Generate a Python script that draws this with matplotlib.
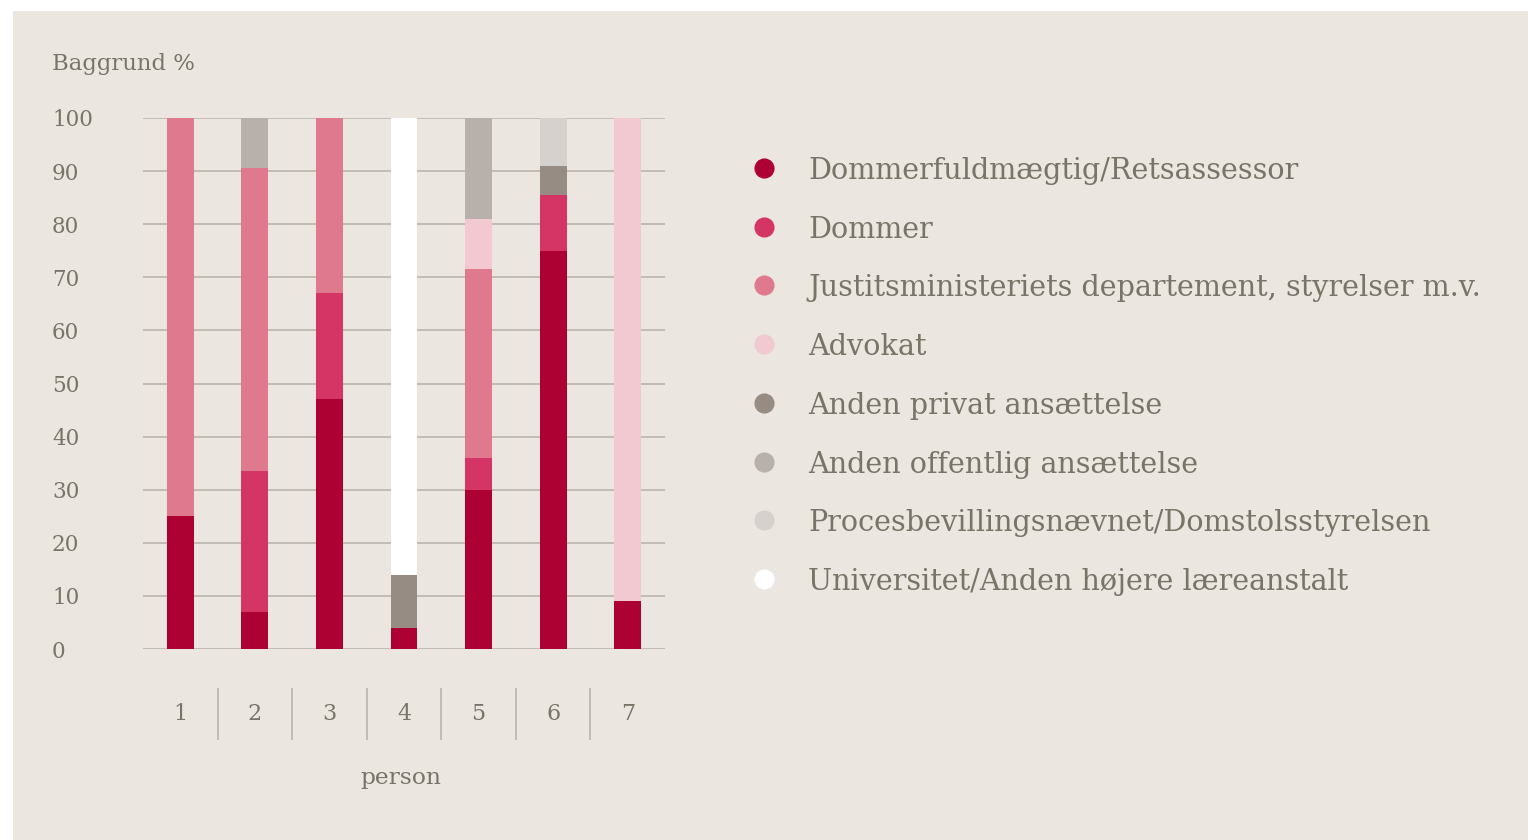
import numpy as np
import matplotlib.pyplot as plt
from matplotlib.patches import Rectangle
from matplotlib.lines import Line2D
import matplotlib.transforms as mtransforms

# data (percent per person)
persons = ["1", "2", "3", "4", "5", "6", "7"]
categories = [
    "Dommerfuldmægtig/Retsassessor",
    "Dommer",
    "Justitsministeriets departement, styrelser m.v.",
    "Advokat",
    "Anden privat ansættelse",
    "Anden offentlig ansættelse",
    "Procesbevillingsnævnet/Domstolsstyrelsen",
    "Universitet/Anden højere læreanstalt",
]
dommerfuld = [25, 7, 47, 4, 30, 75, 9]
dommer = [0, 26.5, 20, 0, 6, 10.5, 0]
justits = [75, 57, 33, 0, 35.5, 0, 0]
advokat = [0, 0, 0, 0, 9.5, 0, 91]
anden_privat = [0, 0, 0, 10, 0, 5.5, 0]
anden_offentlig = [0, 9.5, 0, 0, 19, 0, 0]
proces = [0, 0, 0, 0, 0, 9, 0]
universitet = [0, 0, 0, 86, 0, 0, 0]

colors = ["#ad0033", "#d43564", "#df7a8e", "#f2c9d0",
          "#978c83", "#b8b1ab", "#d6d1cd", "#ffffff"]
series = [dommerfuld, dommer, justits, advokat,
          anden_privat, anden_offentlig, proces, universitet]

BG = "#ebe6e0"
TXT = "#797468"
GRID = "#bab4ad"
FONT = "DejaVu Serif"

W, H = 1528, 840
fig = plt.figure(figsize=(W / 100, H / 100), dpi=100, facecolor="white")
fig.patches.append(Rectangle((13 / W, 0), 1 - 13 / W, (H - 11) / H,
                             transform=fig.transFigure, facecolor=BG,
                             edgecolor="none", zorder=-10))

ax = fig.add_axes([143 / W, (H - 649) / H, (665 - 143) / W, (649 - 118) / H])
ax.set_facecolor("none")

x = np.arange(len(persons))
bottom = np.zeros(len(persons))
for vals, col in zip(series, colors):
    vals = np.array(vals, dtype=float)
    ax.bar(x, vals, width=0.36, bottom=bottom, color=col, zorder=3, linewidth=0)
    bottom += vals

ax.set_xlim(-0.5, len(persons) - 0.5)
ax.set_ylim(0, 100)
ax.set_yticks(np.arange(0, 101, 10))
ax.yaxis.grid(True, color=GRID, linewidth=1.2, zorder=1)
ax.set_axisbelow(True)
for s in ax.spines.values():
    s.set_visible(False)

ax.tick_params(axis="y", length=0, pad=65.5, labelsize=15.5, labelcolor=TXT)
for lab in ax.get_yticklabels():
    lab.set_horizontalalignment("left")
    lab.set_family(FONT)

ax.set_xticks(x)
ax.set_xticklabels(persons)
ax.tick_params(axis="x", length=0, pad=39, labelsize=16, labelcolor=TXT)
for lab in ax.get_xticklabels():
    lab.set_family(FONT)

# separators between persons
trans = mtransforms.blended_transform_factory(ax.transData, ax.transAxes)
ax.vlines(x[:-1] + 0.5, (649 - 688) / 531, (649 - 740) / 531, transform=trans,
          color=GRID, linewidth=1.2, clip_on=False)

fig.text(401 / W, 1 - 778 / H, "person", ha="center", va="center",
         fontsize=16.8, color=TXT, family=FONT)
fig.text(52 / W, 1 - 64 / H, "Baggrund %", ha="left", va="center",
         fontsize=16.4, color=TXT, family=FONT)

# legend
for i, (name, col) in enumerate(zip(categories, colors)):
    yy = 1 - (168 + i * 58.7) / H
    fig.add_artist(Line2D([764 / W], [yy], marker="o", markersize=13.5,
                          color=col, linestyle="none", transform=fig.transFigure))
    fig.text(808 / W, yy, name, ha="left", va="center_baseline",
             fontsize=20.6, color=TXT, family=FONT)

fig.savefig("out.png", dpi=100, facecolor=fig.get_facecolor())
